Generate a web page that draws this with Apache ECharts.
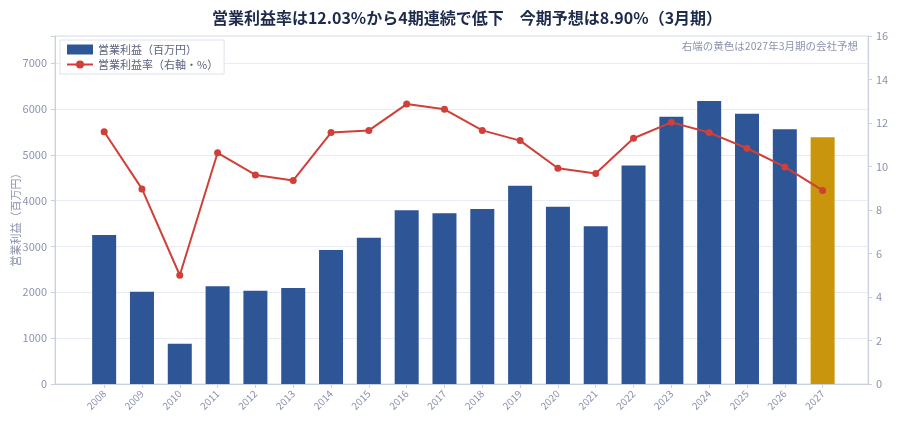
<!DOCTYPE html>
<html>
<head>
<meta charset="utf-8">
<script src="https://cdn.jsdelivr.net/npm/echarts@6/dist/echarts.min.js"></script>
<style>
html, body { margin: 0; padding: 0; background: #fff; }
#main { width: 900px; height: 423px; }
</style>
</head>
<body>
<div id="main"></div>
<script>
// 年度（3月期）
var years = [2008, 2009, 2010, 2011, 2012, 2013, 2014, 2015, 2016, 2017,
             2018, 2019, 2020, 2021, 2022, 2023, 2024, 2025, 2026, 2027];
// 営業利益（百万円）
var profit = [3250, 2010, 880, 2130, 2035, 2095, 2925, 3190, 3790, 3725,
              3815, 4325, 3865, 3440, 4765, 5830, 6175, 5895, 5555, 5380];
// 営業利益率（%）
var margin = [11.60, 8.97, 5.00, 10.63, 9.61, 9.36, 11.56, 11.66, 12.87, 12.63,
              11.66, 11.19, 9.92, 9.68, 11.30, 12.03, 11.56, 10.84, 9.98, 8.90];
var forecastYear = 2027;

var FONT = '"Noto Sans CJK JP", "Noto Sans", sans-serif';
var GRAY = '#8c94ad';

var chart = echarts.init(document.getElementById('main'));

var barData = [];
var lineData = [];
for (var i = 0; i < years.length; i++) {
    var item = { value: [years[i], profit[i]] };
    if (years[i] === forecastYear) {
        item.itemStyle = { color: '#c9950c' };
    }
    barData.push(item);
    lineData.push([years[i], margin[i]]);
}

var option = {
    textStyle: { fontFamily: FONT },
    title: {
        text: '営業利益率は12.03%から4期連続で低下　今期予想は8.90%（3月期）',
        left: 462,
        textAlign: 'center',
        top: 5,
        textStyle: { fontSize: 16, fontWeight: 'bold', color: '#1d2b4c', fontFamily: FONT }
    },
    graphic: [{
        type: 'text',
        right: 42,
        top: 41,
        style: {
            text: '右端の黄色は2027年3月期の会社予想',
            fill: GRAY,
            font: '10.5px ' + FONT
        }
    }],
    legend: {
        left: 60,
        top: 40,
        orient: 'vertical',
        itemGap: 4,
        itemWidth: 26,
        itemHeight: 10,
        padding: [4, 6],
        borderColor: '#dde2ee',
        borderWidth: 1,
        backgroundColor: 'rgba(255,255,255,0.9)',
        textStyle: { fontSize: 11, color: '#5a6380', fontFamily: FONT },
        data: [{ name: '営業利益（百万円）', icon: 'rect' }, '営業利益率（右軸・%）']
    },
    grid: {
        left: 55,
        right: 32,
        top: 36,
        bottom: 39,
        outerBoundsMode: 'none',
        show: true,
        borderColor: '#d5dbe8',
        borderWidth: 1
    },
    xAxis: {
        type: 'value',
        min: 2006.7,
        max: 2028.2,
        axisLine: { show: true, lineStyle: { color: '#c9d0e0' } },
        axisTick: { show: true, customValues: years, length: 4, lineStyle: { color: '#c9d0e0' } },
        axisLabel: {
            customValues: years,
            rotate: 45,
            fontSize: 10,
            color: GRAY,
            margin: 8,
            formatter: function (v) { return String(v); }
        },
        splitLine: { show: false }
    },
    yAxis: [{
        type: 'value',
        min: 0,
        max: 7590,
        interval: 1000,
        name: '営業利益（百万円）',
        nameLocation: 'middle',
        nameGap: 34,
        nameMoveOverlap: false,
        nameTextStyle: { color: GRAY, fontSize: 11, fontFamily: FONT, padding: [0, 14, 0, 0] },
        axisLine: { show: true, lineStyle: { color: '#c9d0e0' } },
        axisTick: { show: true, length: 4, lineStyle: { color: '#c9d0e0' } },
        axisLabel: {
            fontSize: 11,
            color: GRAY,
            formatter: function (v) { return v % 1000 === 0 ? v : ''; }
        },
        splitLine: { show: true, lineStyle: { color: '#e8ebf3' } }
    }, {
        type: 'value',
        min: 0,
        max: 16,
        interval: 2,
        position: 'right',
        axisLine: { show: true, lineStyle: { color: '#c9d0e0' } },
        axisTick: { show: true, length: 4, lineStyle: { color: '#c9d0e0' } },
        axisLabel: { fontSize: 11, color: GRAY },
        splitLine: { show: false }
    }],
    series: [{
        name: '営業利益（百万円）',
        type: 'bar',
        yAxisIndex: 0,
        barWidth: 24,
        itemStyle: { color: '#2e5596' },
        data: barData
    }, {
        name: '営業利益率（右軸・%）',
        type: 'line',
        yAxisIndex: 1,
        symbol: 'circle',
        symbolSize: 7,
        itemStyle: { color: '#d03f38' },
        lineStyle: { color: '#d03f38', width: 2 },
        data: lineData,
        z: 5
    }]
};

chart.setOption(option);
</script>
</body>
</html>
